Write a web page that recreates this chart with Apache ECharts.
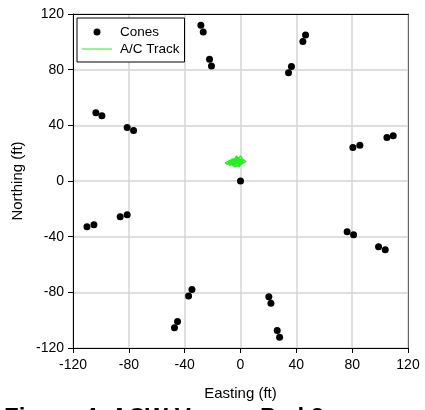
<!DOCTYPE html>
<html>
<head>
<meta charset="utf-8">
<script src="https://cdn.jsdelivr.net/npm/echarts@6/dist/echarts.min.js"></script>
<style>
  html, body { margin: 0; padding: 0; background: #fff; }
  #chart { width: 425px; height: 410px; }
</style>
</head>
<body>
<div id="chart"></div>
<script>
// cone positions (ft)
var coneEast = [-28.4, -26.7, -22.2, -20.8, -103.6, -99.3, -81.2, -76.6,
  46.6, 44.7, 36.5, 34.4, 109.4, 104.9, 85.5, 80.5, 0,
  -110, -105, -86.2, -81.2, -34.8, -37.2, -45.1, -47.3,
  76.4, 81, 98.9, 103.7, 20.3, 21.8, 26.3, 28.0]
var coneNorth = [112.0, 107.0, 87.5, 82.7, 49.1, 46.8, 38.4, 36.2,
  105.0, 100.2, 82.2, 77.7, 32.6, 31.2, 25.7, 24.0, 0,
  -32.9, -31.4, -25.7, -24.2, -77.9, -82.7, -101, -105.5,
  -36.5, -38.6, -47.2, -49.4, -83.2, -87.8, -107.4, -112.2]

// aircraft track (ft)
var trackEast = [-8, -5, -3, -7, -2, 0, -4, -9, -1, 2, -3, -6, -2, 1, 4, 0, -5, -10, -4, -1, 2, 0,
  -3, -6, -2, 1, -1, -4, -8, -6, -3, 0, 3, -2, -7, -11, -5, -2, 1, -3]
var trackNorth = [13, 15, 11, 14, 16, 12, 10, 14, 15, 13, 18, 11, 14, 16, 14, 12, 13, 12, 16, 10, 15, 18,
  14, 12, 11, 16, 13, 15, 11, 16, 13, 15, 13, 17, 15, 13, 11, 14, 12, 16]

var axisTicks = [-120, -80, -40, 0, 40, 80, 120]

var cones = coneEast.map(function (e, i) { return [e, coneNorth[i]] })
var track = trackEast.map(function (e, i) { return [e, trackNorth[i]] })

var chart = echarts.init(document.getElementById('chart'))
var font = 'Arial, "Liberation Sans", sans-serif'

var valueAxis = function (name, pos) {
  return {
    type: 'value',
    position: pos,
    min: axisTicks[0],
    max: axisTicks[axisTicks.length - 1],
    interval: 40,
    name: name,
    nameLocation: 'middle',
    nameTextStyle: { color: '#000', fontSize: 15, fontFamily: font },
    axisLine: { show: true, onZero: false, lineStyle: { color: '#000', width: 1 } },
    axisTick: { show: true, inside: false, length: 5, lineStyle: { color: '#000' } },
    axisLabel: { color: '#000', fontSize: 14, fontFamily: font },
    splitLine: { show: true, lineStyle: { color: '#d4d4d4', width: 1.5 } }
  }
}

var xMain = valueAxis('Easting (ft)', 'bottom')
xMain.nameGap = 38
xMain.axisLabel.margin = 10
var yMain = valueAxis('Northing (ft)', 'left')
yMain.nameGap = 44
yMain.axisLabel.margin = 9

var option = {
  animation: false,
  backgroundColor: '#fff',
  grid: { left: 73, right: 17, top: 14, bottom: 62, containLabel: false },
  legend: {
    orient: 'vertical',
    left: 77,
    top: 18,
    padding: [7, 5, 6, 5],
    itemGap: 3,
    itemWidth: 30,
    itemHeight: 7,
    borderColor: '#000',
    borderWidth: 1,
    backgroundColor: '#fff',
    textStyle: { color: '#000', fontSize: 13.5, fontFamily: font, padding: [0, 0, 0, 3] },
    data: [
      { name: 'Cones', icon: 'circle' },
      { name: 'A/C Track', icon: 'path://M0,0 L30,0 L30,1 L0,1 Z' }
    ]
  },
  xAxis: [
    xMain,
    {
      type: 'value', position: 'top', min: -120, max: 120,
      axisLine: { show: true, onZero: false, lineStyle: { color: '#000' } },
      axisTick: { show: false }, axisLabel: { show: false }, splitLine: { show: false }
    }
  ],
  yAxis: [
    yMain,
    {
      type: 'value', position: 'right', min: -120, max: 120,
      axisLine: { show: true, onZero: false, lineStyle: { color: '#666' } },
      axisTick: { show: false }, axisLabel: { show: false }, splitLine: { show: false }
    }
  ],
  graphic: [{
    type: 'text',
    left: 4,
    top: 406,
    style: { text: 'Figure 4  ACW Versus Pad 3', font: 'bold 24px ' + font, fill: '#000' }
  }],
  series: [
    {
      name: 'Cones',
      type: 'scatter',
      symbol: 'circle',
      symbolSize: 7,
      itemStyle: { color: '#000', opacity: 1 },
      data: cones,
      z: 3
    },
    {
      name: 'A/C Track',
      type: 'line',
      symbol: 'none',
      lineStyle: { color: '#22ee22', width: 1.3 },
      itemStyle: { color: '#22ee22' },
      data: track,
      z: 2
    }
  ]
}

chart.setOption(option)
</script>
</body>
</html>
